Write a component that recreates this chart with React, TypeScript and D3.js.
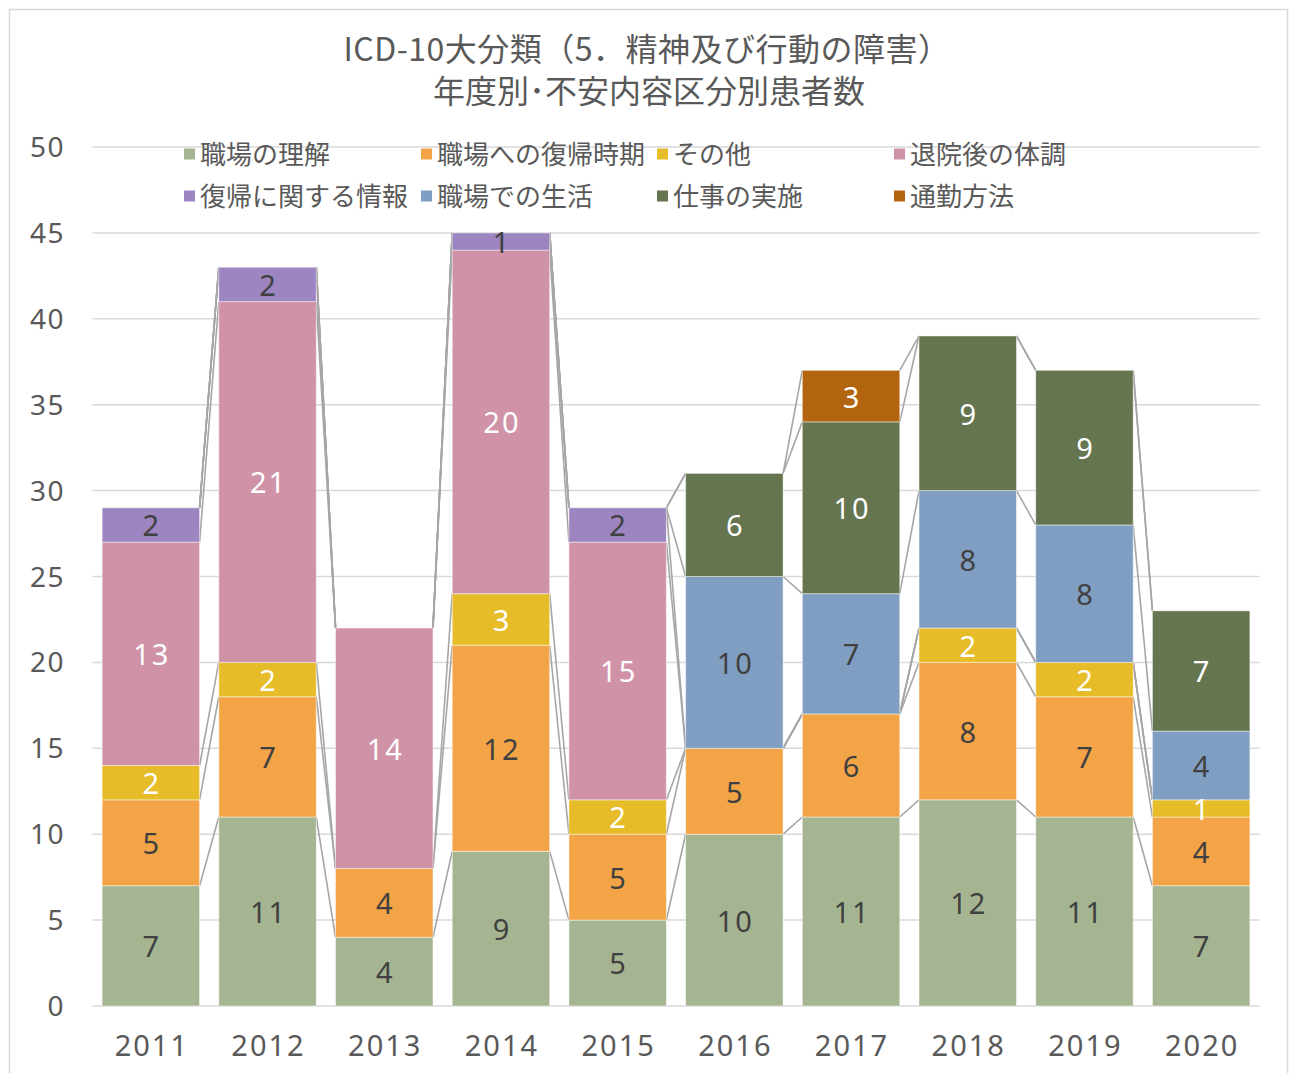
import React from "react";
import * as d3 from "d3";

// Fiscal years on the x axis
const years = ["2011", "2012", "2013", "2014", "2015", "2016", "2017", "2018", "2019", "2020"];

// Concern categories, in stacking order (bottom to top)
const categories = [
  "職場の理解",
  "職場への復帰時期",
  "その他",
  "退院後の体調",
  "復帰に関する情報",
  "職場での生活",
  "仕事の実施",
  "通勤方法",
];

// Patient counts per category for each year (0 = no entry)
const workplaceUnderstanding = [7, 11, 4, 9, 5, 10, 11, 12, 11, 7];
const returnTiming = [5, 7, 4, 12, 5, 5, 6, 8, 7, 4];
const other = [2, 2, 0, 3, 2, 0, 0, 2, 2, 1];
const postDischargeHealth = [13, 21, 14, 20, 15, 0, 0, 0, 0, 0];
const returnInfo = [2, 2, 0, 1, 2, 0, 0, 0, 0, 0];
const workplaceLife = [0, 0, 0, 0, 0, 10, 7, 8, 8, 4];
const jobExecution = [0, 0, 0, 0, 0, 6, 10, 9, 9, 7];
const commuting = [0, 0, 0, 0, 0, 0, 3, 0, 0, 0];

const seriesValues = [
  workplaceUnderstanding,
  returnTiming,
  other,
  postDischargeHealth,
  returnInfo,
  workplaceLife,
  jobExecution,
  commuting,
];

const yTicks = [0, 5, 10, 15, 20, 25, 30, 35, 40, 45, 50];

const colors = ["#A5B592", "#F3A447", "#E7BC29", "#D092A7", "#9C85C0", "#809EC2", "#64754F", "#B2650E"];
const labelColors = ["#404040", "#404040", "#ffffff", "#ffffff", "#404040", "#404040", "#ffffff", "#ffffff"];

const W = 1289;
const H = 1073;
const plotLeft = 92.5;
const plotRight = 1259.5;
const plotTop = 147;
const plotBottom = 1006;

const numFont = "'Noto Sans', 'DejaVu Sans', sans-serif";
const jpFont = "'Noto Sans CJK JP', 'Noto Sans', sans-serif";

export default function App() {
  const x = d3.scaleBand<string>().domain(years).range([plotLeft, plotRight]).paddingInner(0.165).paddingOuter(0.0825);
  const y = d3.scaleLinear().domain([0, 50]).range([plotBottom, plotTop]);

  const table = years.map((yr, i) => {
    const row: Record<string, number | string> = { year: yr };
    categories.forEach((c, s) => (row[c] = seriesValues[s][i]));
    return row;
  });
  const stacked = d3.stack<Record<string, number | string>>().keys(categories)(table as any);

  const bw = x.bandwidth();

  // Series lines joining the top of each stacked segment across neighbouring bars
  const seriesLines: { x1: number; y1: number; x2: number; y2: number; key: string }[] = [];
  stacked.forEach((layer, s) => {
    for (let i = 0; i < years.length - 1; i++) {
      seriesLines.push({
        key: `${s}-${i}`,
        x1: (x(years[i]) as number) + bw,
        y1: y(layer[i][1]),
        x2: x(years[i + 1]) as number,
        y2: y(layer[i + 1][1]),
      });
    }
  });

  const legendCols = [184, 421, 657, 894];
  const legendRows = [155, 197];

  return (
    <svg width={W} height={H} style={{ position: "absolute", left: 0, top: 0, background: "#fff" }}>
      <rect x={9.5} y={9.5} width={1278} height={H + 10} fill="#fff" stroke="#d9d9d9" strokeWidth={1.5} />

      {/* title */}
      <g fill="#595959" fontFamily={jpFont} fontSize={32} textAnchor="middle">
        <text x={647} y={61} letterSpacing={0.5}>ICD-10大分類（5．精神及び行動の障害）</text>
        <text x={649} y={103}>年度別･不安内容区分別患者数</text>
      </g>

      {/* gridlines */}
      <g stroke="#d9d9d9" strokeWidth={1.5}>
        {yTicks.map((t) => (
          <line key={t} x1={plotLeft} x2={plotRight} y1={y(t)} y2={y(t)} />
        ))}
      </g>

      {/* y tick labels */}
      <g fill="#595959" fontFamily={numFont} fontSize={28} textAnchor="end" letterSpacing={1.5}>
        {yTicks.map((t) => (
          <text key={t} x={65} y={y(t)} dy="0.36em">
            {t}
          </text>
        ))}
      </g>

      {/* series lines */}
      <g stroke="#a6a6a6" strokeWidth={1.6}>
        {seriesLines.map((l) => (
          <line key={l.key} x1={l.x1} y1={l.y1} x2={l.x2} y2={l.y2} />
        ))}
      </g>

      {/* stacked bars */}
      {stacked.map((layer, s) => (
        <g key={categories[s]} fill={colors[s]}>
          {layer.map((d, i) =>
            d[1] - d[0] > 0 ? (
              <rect
                key={i}
                x={x(years[i])}
                y={y(d[1])}
                width={bw}
                height={y(d[0]) - y(d[1])}
                stroke="#ffffff"
                strokeOpacity={0.45}
                strokeWidth={1}
              />
            ) : null
          )}
        </g>
      ))}

      {/* data labels */}
      {stacked.map((layer, s) => (
        <g key={"lbl" + s} fill={labelColors[s]} fontFamily={numFont} fontSize={29} textAnchor="middle" letterSpacing={2}>
          {layer.map((d, i) => {
            const v = d[1] - d[0];
            if (v <= 0) return null;
            return (
              <text key={i} x={(x(years[i]) as number) + bw / 2 + 1} y={y((d[0] + d[1]) / 2) + 1} dy="0.36em">
                {v}
              </text>
            );
          })}
        </g>
      ))}

      {/* x labels */}
      <g fill="#595959" fontFamily={numFont} fontSize={29} textAnchor="middle" letterSpacing={2}>
        {years.map((yr) => (
          <text key={yr} x={(x(yr) as number) + bw / 2 + 1} y={1046} dy="0.36em">
            {yr}
          </text>
        ))}
      </g>

      {/* legend */}
      <g fontFamily={jpFont} fontSize={26} fill="#595959">
        {categories.map((c, k) => {
          const cx = legendCols[k % 4];
          const cy = legendRows[Math.floor(k / 4)];
          return (
            <g key={c}>
              <rect x={cx} y={cy - 6.5} width={11} height={11} fill={colors[k]} />
              <text x={cx + 16} y={cy} dy="0.36em">
                {c}
              </text>
            </g>
          );
        })}
      </g>
    </svg>
  );
}
